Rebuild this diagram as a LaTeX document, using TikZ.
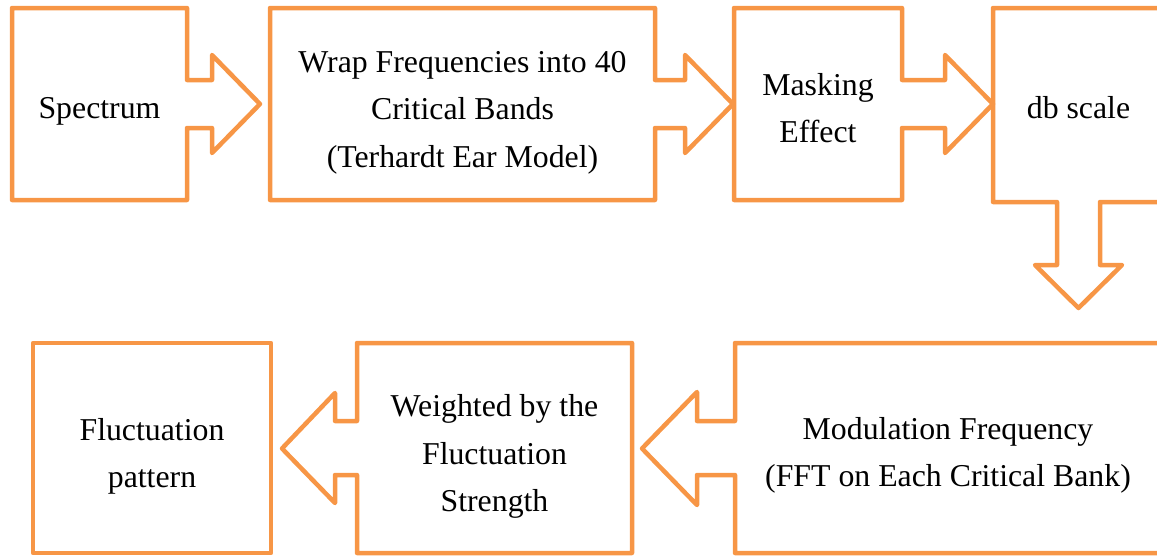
\documentclass[tikz,border=0pt]{standalone}
\usepackage{fontspec}
\setmainfont{Liberation Serif}
\definecolor{flowline}{HTML}{F79646}
\begin{document}
\begin{tikzpicture}[x=1pt,y=-1pt,
  outline/.style={draw=flowline, line width=4.5pt, line join=round},
  lbl/.style={align=center, inner sep=0pt, font=\fontsize{31.8}{47.5}\selectfont}]
\useasboundingbox (0,0) rectangle (1157,557);
\clip (0,0) rectangle (1157,557);

% top row: boxes merged with their outgoing block arrows
\draw[outline] (12,8) -- (187,8) -- (187,80) -- (212,80) -- (212,55) -- (260,104)
  -- (212,153) -- (212,128) -- (187,128) -- (187,200) -- (12,200) -- cycle;
\draw[outline] (270,8) -- (655,8) -- (655,80) -- (685,80) -- (685,55) -- (733,104)
  -- (685,153) -- (685,128) -- (655,128) -- (655,200) -- (270,200) -- cycle;
\draw[outline] (734,8) -- (902,8) -- (902,80) -- (945,80) -- (945,55) -- (993,104)
  -- (945,153) -- (945,128) -- (902,128) -- (902,200) -- (734,200) -- cycle;
\draw[outline] (993,8) -- (1166,8) -- (1166,202) -- (1100,202) -- (1100,265)
  -- (1122,265) -- (1078.5,308) -- (1035,265) -- (1057,265) -- (1057,202)
  -- (993,202) -- cycle;

% bottom row: arrows point to the left
\draw[outline] (735,343) -- (1165,343) -- (1165,553) -- (735,553) -- (735,475)
  -- (697,475) -- (697,505) -- (642,448.5) -- (697,392) -- (697,421) -- (735,421) -- cycle;
\draw[outline] (357,343) -- (632,343) -- (632,553) -- (357,553) -- (357,475)
  -- (335,475) -- (335,503) -- (282,448.5) -- (335,393) -- (335,421) -- (357,421) -- cycle;
\draw[outline] (33,343) rectangle (271,553);

% labels
\node[lbl] (spec) at (99.5,111.5) {Spectrum};
\node[lbl] (wrap) at (462.5,112.5) {Wrap Frequencies into 40\\Critical Bands\\(Terhardt Ear Model)};
\node[lbl] (mask) at (818,108.2) {Masking\\Effect};
\node[lbl] (db) at (1078.5,107.2) {db scale};
\node[lbl] (mod) at (948,455.3) {Modulation Frequency\\(FFT on Each Critical Bank)};
\node[lbl] (wgt) at (494.5,456.6) {Weighted by the\\Fluctuation\\Strength};
\node[lbl] (fluc) at (152,456.1) {Fluctuation\\pattern};
\end{tikzpicture}
\end{document}
